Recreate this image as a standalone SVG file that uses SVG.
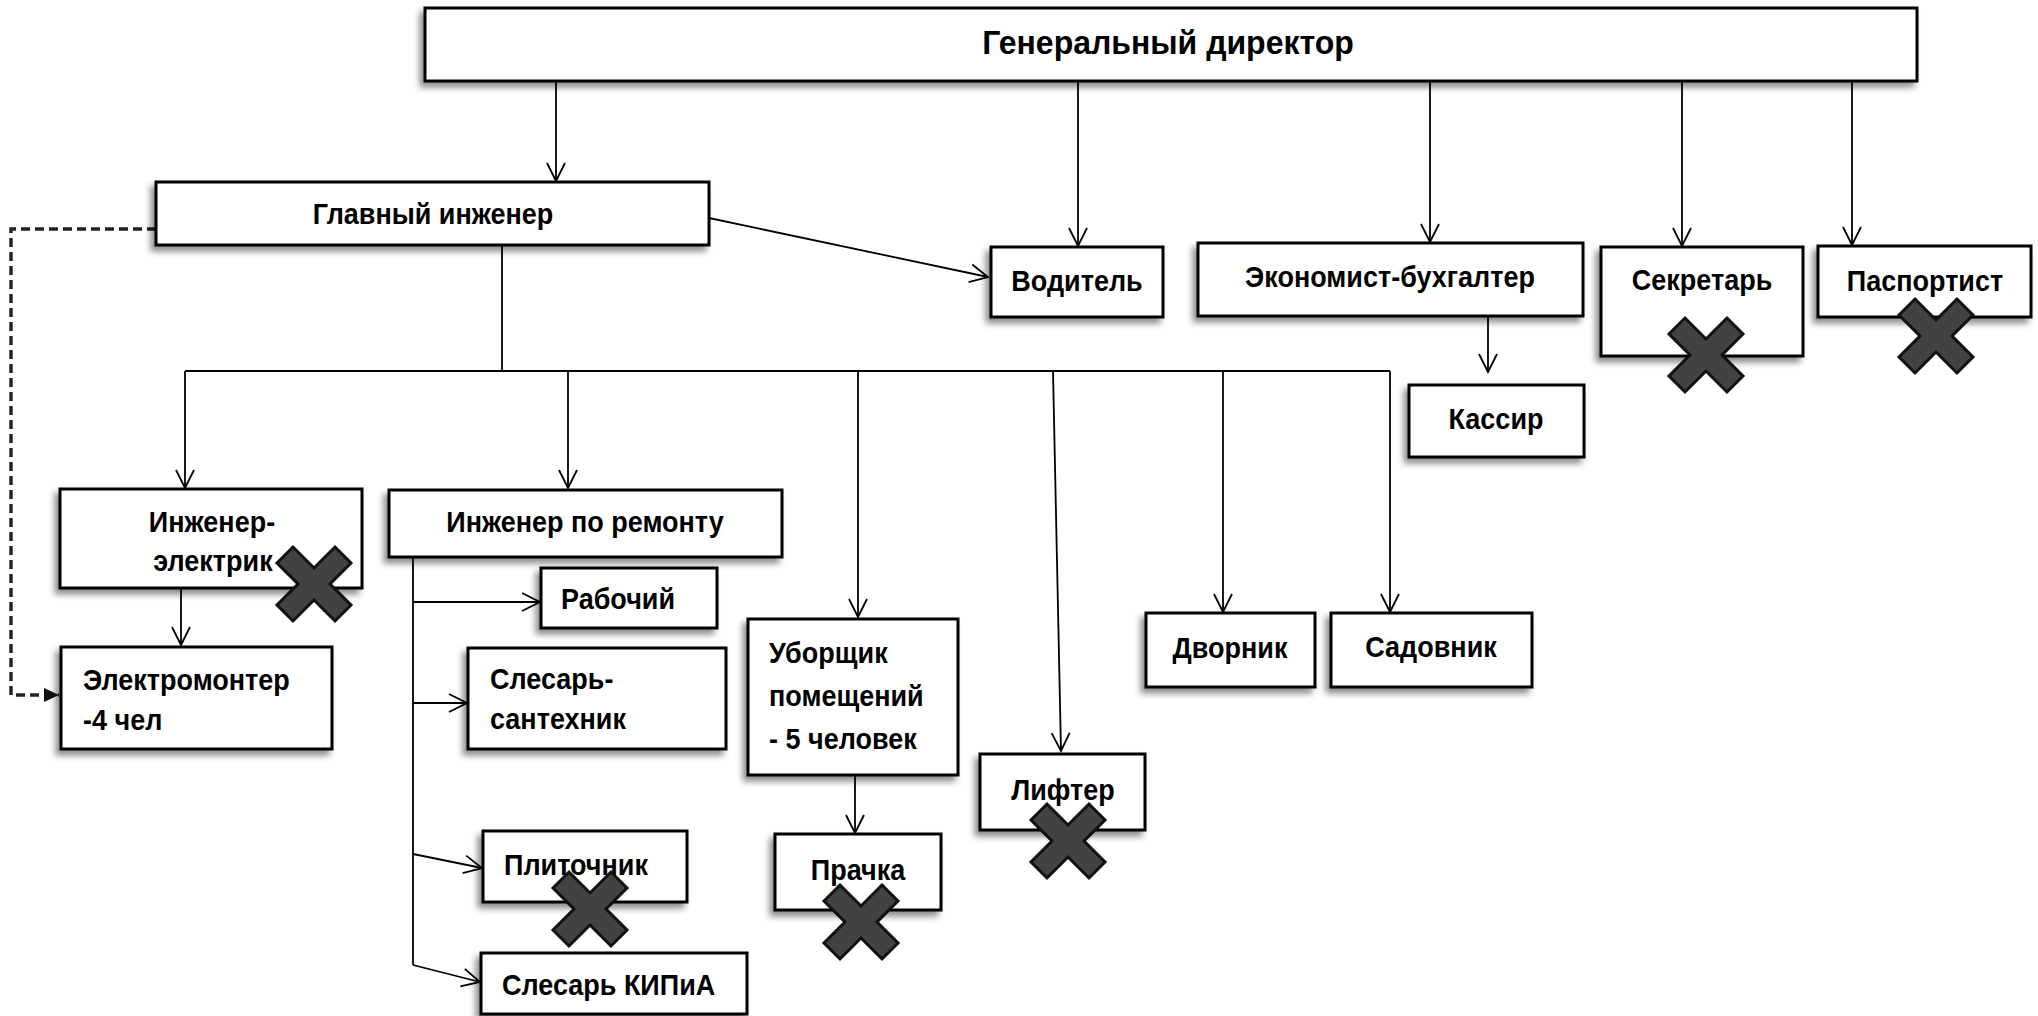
<svg xmlns="http://www.w3.org/2000/svg" width="2038" height="1016" viewBox="0 0 2038 1016">
<defs>
<style>
.box{fill:#fff;stroke:#000;stroke-width:3;filter:url(#sh)}
.t{font-family:"Liberation Sans",Arial,sans-serif;font-weight:bold;font-size:27px;fill:#000}
.c{text-anchor:middle}
.ln{fill:none;stroke:#000;stroke-width:1.8}
.ar{marker-end:url(#arr)}
.dash{fill:none;stroke:#222;stroke-width:3.4;stroke-dasharray:9 5;marker-end:url(#darr)}
.xm{fill:#424242;stroke:#111;stroke-width:3;stroke-linejoin:miter}
</style>
<filter id="sh" x="-10%" y="-10%" width="120%" height="130%">
<feDropShadow dx="-4" dy="5" stdDeviation="3" flood-color="#000" flood-opacity="0.45"/>
</filter>
<marker id="arr" markerUnits="userSpaceOnUse" markerWidth="24" markerHeight="24" viewBox="-20 -12 24 24" refX="0" refY="0" orient="auto">
<path d="M-18,-9 L0,0 L-18,9" fill="none" stroke="#000" stroke-width="1.8"/>
</marker>
<marker id="darr" markerUnits="userSpaceOnUse" markerWidth="20" markerHeight="20" viewBox="-16 -10 20 20" refX="0" refY="0" orient="auto">
<path d="M-15,-7 L0,0 L-15,7 Z" fill="#111"/>
</marker>
<polygon id="xs" class="xm" points="-37,-21 -21,-37 0,-16 21,-37 37,-21 16,0 37,21 21,37 0,16 -21,37 -37,21 -16,0"/>
</defs>
<rect width="2038" height="1016" fill="#fff"/>

<g id="connectors">
<line class="ln ar" x1="556" y1="81" x2="556" y2="181"/>
<line class="ln ar" x1="1078" y1="81" x2="1078" y2="246"/>
<line class="ln ar" x1="1430" y1="81" x2="1430" y2="242"/>
<line class="ln ar" x1="1682" y1="81" x2="1682" y2="246"/>
<line class="ln ar" x1="1852" y1="81" x2="1852" y2="245"/>
<line class="ln ar" x1="709" y1="218" x2="988" y2="277"/>
<line class="ln" x1="502" y1="245" x2="502" y2="371"/>
<line class="ln" x1="185" y1="371" x2="1390" y2="371"/>
<line class="ln ar" x1="185" y1="371" x2="185" y2="488"/>
<line class="ln ar" x1="568" y1="371" x2="568" y2="488"/>
<line class="ln ar" x1="858" y1="371" x2="858" y2="617"/>
<line class="ln ar" x1="1053" y1="371" x2="1061" y2="751"/>
<line class="ln ar" x1="1223" y1="371" x2="1223" y2="612"/>
<line class="ln ar" x1="1390" y1="371" x2="1390" y2="612"/>
<line class="ln ar" x1="1488" y1="316" x2="1488" y2="372"/>
<line class="ln ar" x1="181" y1="588" x2="181" y2="645"/>
<line class="ln" x1="413" y1="557" x2="413" y2="965"/>
<line class="ln ar" x1="413" y1="602" x2="540" y2="602"/>
<line class="ln ar" x1="413" y1="703" x2="467" y2="703"/>
<line class="ln ar" x1="413" y1="854" x2="482" y2="868"/>
<line class="ln ar" x1="413" y1="965" x2="480" y2="982"/>
<line class="ln ar" x1="855" y1="775" x2="855" y2="833"/>
<polyline class="dash" points="156,229 11,229 11,695 59,695"/>
</g>

<g id="n-gd"><rect class="box" x="425" y="8" width="1492" height="73"/><text class="t c" transform="translate(1168,54) scale(1,1.05)" style="font-size:32px">Генеральный директор</text></g>
<g id="n-gi"><rect class="box" x="156" y="182" width="553" height="63"/><text class="t c" transform="translate(433,224) scale(1,1.1)">Главный инженер</text></g>
<g id="n-vod"><rect class="box" x="991" y="247" width="172" height="70"/><text class="t c" transform="translate(1077,291) scale(1,1.1)">Водитель</text></g>
<g id="n-econ"><rect class="box" x="1198" y="243" width="385" height="73"/><text class="t c" transform="translate(1390,287) scale(1,1.1)">Экономист-бухгалтер</text></g>
<g id="n-sekr"><rect class="box" x="1601" y="247" width="202" height="109"/><text class="t c" transform="translate(1702,290) scale(1,1.1)">Секретарь</text></g>
<g id="n-pasp"><rect class="box" x="1818" y="246" width="213" height="71"/><text class="t c" transform="translate(1925,291) scale(1,1.1)">Паспортист</text></g>
<g id="n-kass"><rect class="box" x="1409" y="385" width="175" height="72"/><text class="t c" transform="translate(1496,429) scale(1,1.1)">Кассир</text></g>
<g id="n-ie"><rect class="box" x="60" y="489" width="302" height="99"/><text class="t c" transform="translate(212,532) scale(1,1.1)">Инженер-</text><text class="t c" transform="translate(213,571) scale(1,1.1)">электрик</text></g>
<g id="n-ir"><rect class="box" x="389" y="490" width="393" height="67"/><text class="t c" transform="translate(585,532) scale(1,1.1)">Инженер по ремонту</text></g>
<g id="n-rab"><rect class="box" x="541" y="568" width="176" height="60"/><text class="t" transform="translate(561,609) scale(1,1.1)">Рабочий</text></g>
<g id="n-em"><rect class="box" x="61" y="647" width="271" height="102"/><text class="t" transform="translate(83,690) scale(1,1.1)">Электромонтер</text><text class="t" transform="translate(83,730) scale(1,1.1)">-4 чел</text></g>
<g id="n-ss"><rect class="box" x="468" y="648" width="258" height="101"/><text class="t" transform="translate(490,689) scale(1,1.1)">Слесарь-</text><text class="t" transform="translate(490,729) scale(1,1.1)">сантехник</text></g>
<g id="n-ub"><rect class="box" x="748" y="619" width="210" height="156"/><text class="t" transform="translate(769,663) scale(1,1.1)">Уборщик</text><text class="t" transform="translate(769,706) scale(1,1.1)">помещений</text><text class="t" transform="translate(769,749) scale(1,1.1)">- 5 человек</text></g>
<g id="n-pl"><rect class="box" x="483" y="831" width="204" height="71"/><text class="t" transform="translate(504,875) scale(1,1.1)">Плиточник</text></g>
<g id="n-kip"><rect class="box" x="481" y="953" width="266" height="61"/><text class="t" transform="translate(502,995) scale(1,1.1)">Слесарь КИПиА</text></g>
<g id="n-pr"><rect class="box" x="775" y="834" width="166" height="76"/><text class="t c" transform="translate(858,880) scale(1,1.1)">Прачка</text></g>
<g id="n-lf"><rect class="box" x="980" y="754" width="165" height="76"/><text class="t c" transform="translate(1063,800) scale(1,1.1)">Лифтер</text></g>
<g id="n-dv"><rect class="box" x="1146" y="613" width="169" height="74"/><text class="t c" transform="translate(1230,658) scale(1,1.1)">Дворник</text></g>
<g id="n-sad"><rect class="box" x="1331" y="613" width="201" height="74"/><text class="t c" transform="translate(1431,657) scale(1,1.1)">Садовник</text></g>

<g id="marks">
<use href="#xs" x="1706" y="355"/>
<use href="#xs" x="1936" y="336"/>
<use href="#xs" x="314" y="584"/>
<use href="#xs" x="590" y="909"/>
<use href="#xs" x="861" y="922"/>
<use href="#xs" x="1068" y="841"/>
</g>
</svg>
